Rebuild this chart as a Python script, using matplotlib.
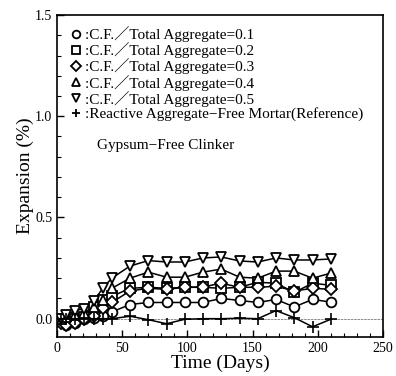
import numpy as np
import matplotlib
matplotlib.use('Agg')
import matplotlib.pyplot as plt
from matplotlib.ticker import MultipleLocator

plt.rcParams['font.family'] = ['Liberation Serif', 'Noto Sans CJK JP']

# days of measurement
days = [0, 3, 7, 14, 21, 28, 35, 42, 56, 70, 84, 98, 112, 126, 140, 154, 168, 182, 196, 210]

# expansion (%)
cf01 = [0.0, -0.01, -0.03, -0.02, 0.0, 0.005, 0.015, 0.033, 0.07, 0.08, 0.08, 0.08, 0.08, 0.10, 0.09, 0.08, 0.095, 0.058, 0.095, 0.082]
cf02 = [0.0, -0.01, -0.01, 0.0, 0.01, 0.06, 0.09, 0.11, 0.15, 0.155, 0.15, 0.155, 0.155, 0.15, 0.155, 0.18, 0.175, 0.13, 0.175, 0.165]
cf03 = [-0.01, -0.02, -0.03, -0.02, 0.0, 0.015, 0.055, 0.08, 0.137, 0.15, 0.145, 0.155, 0.157, 0.175, 0.155, 0.155, 0.16, 0.137, 0.15, 0.145]
cf04 = [0.0, 0.0, 0.01, 0.02, 0.03, 0.06, 0.09, 0.15, 0.20, 0.23, 0.205, 0.205, 0.23, 0.245, 0.205, 0.20, 0.235, 0.235, 0.20, 0.225]
cf05 = [0.0, 0.0, 0.02, 0.04, 0.05, 0.085, 0.15, 0.20, 0.26, 0.287, 0.28, 0.28, 0.30, 0.305, 0.285, 0.28, 0.30, 0.29, 0.29, 0.295]
ref = [0.0, 0.0, 0.0, 0.0, 0.0, 0.0, 0.0, 0.0, 0.012, -0.005, -0.025, -0.003, 0.0, 0.0, 0.002, 0.0, 0.04, 0.005, -0.04, -0.003]

labels = [':C.F.／Total Aggregate=0.1',
          ':C.F.／Total Aggregate=0.2',
          ':C.F.／Total Aggregate=0.3',
          ':C.F.／Total Aggregate=0.4',
          ':C.F.／Total Aggregate=0.5',
          ':Reactive Aggregate\u2212Free Mortar(Reference)']


def main():
    fig = plt.figure(figsize=(3.96, 3.76), dpi=100)
    ax = fig.add_axes([0.144, 0.104, 0.823, 0.856])

    ax.axhline(0, color='#777777', linewidth=0.6, linestyle=(0, (3, 1)), zorder=1)

    series = [cf01, cf02, cf03, cf04, cf05]
    marks = ['o', 's', 'D', '^', 'v']
    sizes = [7, 6.5, 6, 7, 7]
    for s, m, ms in zip(series, marks, sizes):
        ax.plot(days, s, color='black', linewidth=1.1, zorder=2)
        ax.plot(days, s, linestyle='none', marker=m, markersize=ms,
                markerfacecolor='white', markeredgecolor='black',
                markeredgewidth=1.3, zorder=3)
    ax.plot(days, ref, color='black', linewidth=1.1, marker='+',
            markersize=8, markeredgewidth=1.2, zorder=3)

    # legend: marker only, no line
    leg_handles = []
    for m in marks + ['+']:
        lh, = ax.plot([], [], linestyle='none', marker=m, markersize=5.5,
                      markerfacecolor='white', markeredgecolor='black',
                      markeredgewidth=1.3)
        leg_handles.append(lh)
    ax.legend(leg_handles, labels, loc='upper left', bbox_to_anchor=(0.02, 0.985),
              frameon=False, fontsize=11, handlelength=0.8, handletextpad=0.2,
              labelspacing=0.02, borderaxespad=0.0)

    ax.text(0.123, 0.595, 'Gypsum\u2212Free Clinker', transform=ax.transAxes,
            fontsize=11, ha='left', va='center')

    ax.set_xlim(0, 250)
    ax.set_ylim(-0.09, 1.5)
    ax.xaxis.set_major_locator(MultipleLocator(50))
    ax.xaxis.set_minor_locator(MultipleLocator(10))
    ax.yaxis.set_minor_locator(MultipleLocator(0.1))
    ax.set_yticks([0, 0.5, 1.0, 1.5])
    ax.set_yticklabels(['0.0', '0.5', '1.0', '1.5'])
    ax.tick_params(which='both', direction='in', top=False, right=False, labelsize=10)
    ax.tick_params(which='major', length=5, width=1.0)
    ax.tick_params(which='minor', length=3, width=0.8)
    for sp in ax.spines.values():
        sp.set_linewidth(1.2)

    ax.set_xlabel('Time (Days)', fontsize=14, labelpad=0)
    ax.set_ylabel('Expansion (%)', fontsize=14, labelpad=1)

    fig.savefig('out.png', dpi=100)


if __name__ == "__main__":
    main()
